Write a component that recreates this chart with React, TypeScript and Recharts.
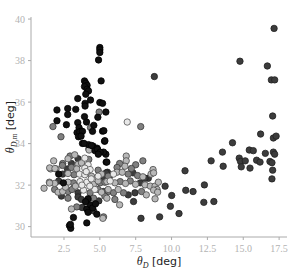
import { ScatterChart, Scatter, XAxis, YAxis, Label } from 'recharts';

// [thetaD, thetaDm] pairs, grouped by marker shade
const blackPts: [number, number][] = [
  [5.0, 38.63], [5.0, 38.52], [5.0, 38.39], [4.91, 38.03], [5.09, 37.02], [3.93, 37.02], [4.02, 36.91],
  [4.11, 36.81], [3.93, 36.75], [4.11, 36.62], [4.21, 36.54], [4.02, 36.38], [3.46, 36.17], [4.35, 36.1],
  [3.97, 35.94], [3.97, 35.81], [5.0, 35.98], [5.19, 35.94], [5.42, 35.52], [4.86, 35.27], [2.01, 35.62],
  [2.01, 35.1], [2.76, 35.69], [2.76, 35.4], [3.32, 35.65], [2.67, 34.91], [3.93, 35.3], [3.46, 35.01],
  [4.07, 35.04], [3.55, 34.77], [3.69, 34.6], [4.58, 34.88], [5.19, 34.6], [3.41, 34.53], [3.6, 34.56],
  [3.79, 34.59], [3.51, 34.33], [3.69, 34.36], [4.49, 34.59], [5.28, 34.62], [3.79, 34.01], [4.21, 33.95],
  [4.53, 33.88], [4.81, 33.78], [4.67, 33.66], [4.91, 33.62], [5.33, 34.11], [5.42, 33.49], [3.9, 34.01],
  [4.42, 33.91], [4.84, 33.72], [5.26, 33.59], [5.35, 34.14], [5.44, 33.11], [5.02, 33.59], [4.89, 33.49],
  [5.49, 33.11], [2.13, 32.53], [2.46, 32.11], [4.18, 31.34], [4.09, 30.85], [4.18, 30.69], [4.79, 30.6],
  [3.16, 30.44], [2.88, 30.05], [2.97, 29.92], [4.09, 30.18], [2.95, 30.11], [4.35, 31.05], [4.5, 30.9],
  [4.0, 31.2], [4.7, 31.1],
];

const darkPts: [number, number][] = [
  [8.8, 37.23], [7.87, 30.4], [9.92, 30.98], [9.55, 31.95], [10.01, 31.5], [9.17, 30.47], [10.52, 30.63],
  [10.94, 32.69], [10.99, 31.75], [11.5, 31.69], [12.29, 32.01], [12.25, 31.17], [12.95, 31.21],
  [12.76, 33.17], [13.55, 33.59], [13.6, 32.91], [14.25, 34.04], [14.72, 33.3], [14.81, 33.14],
  [14.86, 32.88], [15.14, 33.17], [15.42, 33.69], [15.7, 33.66], [15.93, 33.2], [16.17, 33.11],
  [15.47, 32.82], [16.21, 34.46], [16.54, 33.53], [16.86, 33.14], [17.0, 33.08], [17.1, 34.27],
  [17.29, 34.36], [17.1, 33.59], [17.19, 33.49], [17.05, 32.72], [17.0, 32.3], [17.15, 39.55],
  [14.77, 37.97], [16.68, 37.74], [16.96, 37.07], [17.19, 37.07], [17.05, 35.33],
  [3.48, 33.27], [3.02, 33.04], [2.74, 32.78], [5.53, 32.62], [2.41, 32.53], [5.26, 32.4], [5.67, 32.43],
  [2.13, 32.2], [3.48, 31.63], [2.32, 31.47], [3.48, 31.43], [3.72, 31.31], [4.93, 31.24], [3.76, 30.92],
  [4.56, 30.76], [5.44, 32.59], [7.31, 32.59], [8.38, 32.33], [7.82, 32.11], [5.26, 31.69], [6.98, 31.53],
  [7.45, 31.63], [7.35, 31.21], [8.15, 32.33],
];

const midPts: [number, number][] = [
  [4.95, 35.52], [1.73, 34.82], [4.35, 34.77], [7.85, 34.82], [2.29, 34.33], [4.23, 33.75], [2.92, 33.4],
  [4.23, 33.24], [2.41, 33.04], [3.02, 32.85], [4.88, 32.72], [3.2, 32.5], [3.16, 32.11], [5.02, 32.11],
  [1.85, 31.79], [2.78, 31.69], [3.06, 31.79], [4.32, 31.63], [5.58, 31.69], [2.78, 31.37], [4.56, 31.37],
  [5.35, 31.47], [3.39, 30.95], [5.26, 30.47], [2.39, 32.95], [6.38, 33.04], [8.0, 33.17], [7.5, 32.98],
  [5.58, 32.43], [6.98, 32.53], [7.63, 32.46], [5.35, 32.14], [6.42, 32.17], [7.12, 32.2], [4.88, 31.79],
  [5.95, 31.63], [6.65, 31.63], [7.91, 31.69], [6.05, 31.31], [7.2, 32.8], [6.2, 32.85],
];

const lightPts: [number, number][] = [
  [4.25, 33.69], [3.25, 33.46], [2.78, 33.27], [3.48, 33.0], [3.72, 33.07], [1.57, 32.78], [1.95, 32.78],
  [3.39, 32.78], [2.78, 32.56], [4.42, 32.43], [1.48, 32.14], [1.85, 32.08], [2.78, 32.14], [4.56, 32.04],
  [5.49, 32.17], [1.11, 31.85], [2.09, 31.66], [2.41, 31.69], [5.12, 31.66], [3.02, 30.85], [1.78, 33.17],
  [1.5, 32.83], [1.87, 32.8], [1.5, 32.1], [6.84, 33.4], [6.84, 33.17], [6.75, 32.91], [8.71, 32.75],
  [5.12, 32.53], [6.19, 32.62], [6.56, 32.62], [8.0, 32.4], [8.57, 32.53], [8.75, 32.59], [4.88, 32.2],
  [6.05, 32.11], [6.79, 32.08], [7.49, 32.04], [8.15, 32.01], [8.52, 31.95], [8.85, 31.95], [9.08, 32.14],
  [8.99, 31.79], [5.58, 31.79], [6.28, 31.79], [8.24, 31.53], [8.75, 31.76], [9.03, 31.66], [5.49, 31.37],
  [8.85, 31.34], [6.38, 31.05], [5.21, 30.4], [2.6, 31.9], [3.3, 31.95],
];

const palePts: [number, number][] = [
  [6.91, 35.04], [3.95, 33.3], [4.18, 32.98], [3.95, 32.82], [4.32, 32.75], [3.58, 32.53], [3.95, 32.5],
  [4.88, 32.43], [3.62, 32.17], [4.09, 32.14], [3.86, 31.76], [4.65, 31.79], [5.95, 32.53], [5.72, 32.2],
  [4.4, 32.3], [3.75, 32.0], [4.3, 31.95], [4.05, 32.65],
];

const xTicks = [2.5, 5.0, 7.5, 10.0, 12.5, 15.0, 17.5];
const yTicks = [30, 32, 34, 36, 38, 40];

const toRows = (pts: [number, number][]) => pts.map(([x, y]) => ({ x, y }));

const dot = (fill: string, stroke: string) => (props: any) => (
  <circle cx={props.cx} cy={props.cy} r={3.2} fill={fill} stroke={stroke} strokeWidth={0.8} />
);

const serif = 'Liberation Serif';

function XTick(props: any) {
  const { x, y, payload } = props;
  return (
    <text x={x} y={y + 10} textAnchor="middle" fontSize={10} fill="#b3b3b3" fontFamily={serif}>
      {Number(payload.value).toFixed(1)}
    </text>
  );
}

function YTick(props: any) {
  const { x, y, payload } = props;
  return (
    <text x={x - 1} y={y + 3.5} textAnchor="end" fontSize={10} fill="#b3b3b3" fontFamily={serif}>
      {payload.value}
    </text>
  );
}

function XTitle(props: any) {
  const vb = props.viewBox || { x: 31, y: 237, width: 256 };
  return (
    <text x={vb.x + vb.width / 2} y={265} textAnchor="middle" fontSize={11} fill="#222" fontFamily="DejaVu Sans, sans-serif">
      <tspan fontStyle="italic" fontFamily={serif} fontSize={12}>θ</tspan>
      <tspan fontStyle="italic" fontFamily={serif} fontSize={8} dy={3}>D</tspan>
      <tspan dy={-3}> [deg]</tspan>
    </text>
  );
}

function YTitle() {
  return (
    <text x={0} y={0} transform="translate(14,127) rotate(-90)" textAnchor="middle" fontSize={11} fill="#222" fontFamily="DejaVu Sans, sans-serif">
      <tspan fontStyle="italic" fontFamily={serif} fontSize={12}>θ</tspan>
      <tspan fontStyle="italic" fontFamily={serif} fontSize={8} dy={3}>D,m</tspan>
      <tspan dy={-3}> [deg]</tspan>
    </text>
  );
}

export default function App() {
  return (
    <div style={{ position: 'absolute', left: 0, top: 0, background: '#fff' }}>
      <ScatterChart width={295} height={271} margin={{ top: 17, right: 8, bottom: 0, left: 0 }}>
        <XAxis
          type="number"
          dataKey="x"
          domain={[0.2, 18.05]}
          ticks={xTicks}
          height={34}
          stroke="#aaa"
          tickSize={3}
          tick={<XTick />}
          allowDataOverflow
        >
          <Label content={<XTitle />} />
        </XAxis>
        <YAxis
          type="number"
          dataKey="y"
          domain={[29.5, 40.1]}
          ticks={yTicks}
          width={31}
          stroke="#aaa"
          tickSize={3}
          tick={<YTick />}
          allowDataOverflow
        >
          <Label content={<YTitle />} />
        </YAxis>
        <Scatter data={toRows(darkPts)} shape={dot('#3c3c3c', '#222')} isAnimationActive={false} />
        <Scatter data={toRows(midPts)} shape={dot('#808080', '#3a3a3a')} isAnimationActive={false} />
        <Scatter data={toRows(lightPts)} shape={dot('#b8b8b8', '#4a4a4a')} isAnimationActive={false} />
        <Scatter data={toRows(palePts)} shape={dot('#e8e8e8', '#555')} isAnimationActive={false} />
        <Scatter data={toRows(blackPts)} shape={dot('#111', '#000')} isAnimationActive={false} />
      </ScatterChart>
    </div>
  );
}
